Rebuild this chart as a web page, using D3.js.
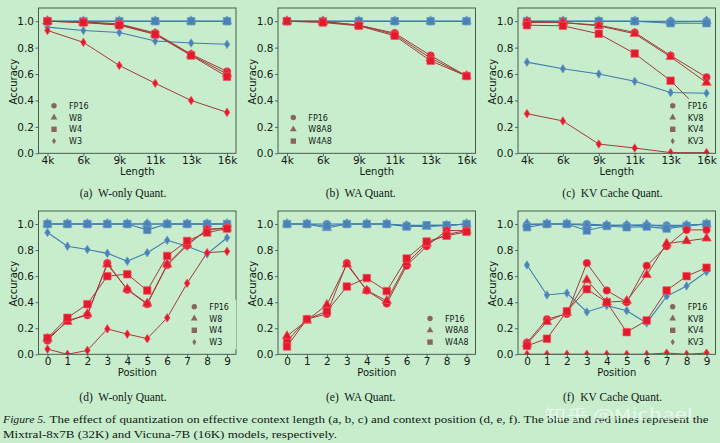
<!DOCTYPE html>
<html><head><meta charset="utf-8">
<script src="https://cdn.jsdelivr.net/npm/d3@7"></script>
<style>body{margin:0;background:#c7edcc;} svg{display:block}</style>
</head><body>
<script>
// ---------- tick labels / categories ----------
const lengthLabels = ["4k","6k","9k","11k","13k","16k"];
const positionLabels = ["0","1","2","3","4","5","6","7","8","9"];
const yTicks = [0.0,0.2,0.4,0.6,0.8,1.0];

// ---------- (a) W-only Quant., length ----------
const aMixFP16 = [1,1,1,1,1,1];
const aMixW8   = [1,1,1,1,1,1];
const aMixW4   = [1,1,1,1,1,1];
const aMixW3   = [0.955,0.93,0.915,0.85,0.835,0.825];
const aVicFP16 = [1.0,0.995,0.98,0.91,0.75,0.62];
const aVicW8   = [1.0,0.99,0.975,0.905,0.745,0.60];
const aVicW4   = [1.0,0.99,0.97,0.90,0.74,0.58];
const aVicW3   = [0.93,0.84,0.665,0.53,0.40,0.31];

// ---------- (b) WA Quant., length ----------
const bMixFP16 = [1,1,1,1,1,1];
const bMixW8A8 = [1,1,1,1,1,1];
const bMixW4A8 = [1,1,1,1,1,1];
const bVicFP16 = [1.0,1.0,0.97,0.91,0.74,0.585];
const bVicW8A8 = [1.0,0.995,0.97,0.90,0.72,0.585];
const bVicW4A8 = [1.0,0.99,0.965,0.89,0.70,0.585];

// ---------- (c) KV Cache Quant., length ----------
const cMixFP16 = [1,1,1,1,1,1];
const cMixKV8  = [1,1,1,1,0.995,1];
const cMixKV4  = [1,1,1,1,0.985,0.985];
const cMixKV3  = [0.69,0.64,0.60,0.545,0.46,0.455];
const cVicFP16 = [1.0,0.99,0.97,0.915,0.74,0.575];
const cVicKV8  = [0.99,0.99,0.965,0.905,0.73,0.535];
const cVicKV4  = [0.97,0.965,0.905,0.755,0.55,0.28];
const cVicKV3  = [0.30,0.245,0.07,0.04,0.005,0.005];

// ---------- (d) W-only Quant., position ----------
const dMixFP16 = [1,1,1,1,1,1,1,1,1,1];
const dMixW8   = [1,1,1,1,1,1,1,1,1,1];
const dMixW4   = [1,1,1,1,1,0.955,1,1,1,1];
const dMixW3   = [0.935,0.83,0.805,0.775,0.715,0.78,0.875,0.83,0.77,0.895];
const dVicFP16 = [0.105,0.26,0.30,0.70,0.495,0.385,0.685,0.835,0.96,0.97];
const dVicW8   = [0.12,0.25,0.31,0.69,0.50,0.39,0.69,0.845,0.955,0.97];
const dVicW4   = [0.125,0.28,0.385,0.60,0.615,0.49,0.755,0.87,0.935,0.965];
const dVicW3   = [0.04,0.0,0.03,0.195,0.155,0.12,0.28,0.545,0.78,0.79];

// ---------- (e) WA Quant., position ----------
const eMixFP16 = [1,1,1,1,1,1,0.99,0.99,0.99,1];
const eMixW8A8 = [1,1,0.97,1,1,1,0.985,0.98,0.99,1];
const eMixW4A8 = [1,1,0.985,1,1,1,0.98,0.99,0.99,1];
const eVicFP16 = [0.10,0.27,0.31,0.70,0.49,0.39,0.68,0.83,0.95,0.95];
const eVicW8A8 = [0.14,0.26,0.38,0.69,0.49,0.41,0.70,0.85,0.92,0.95];
const eVicW4A8 = [0.06,0.27,0.33,0.52,0.585,0.485,0.735,0.865,0.91,0.94];

// ---------- (f) KV Cache Quant., position ----------
const fMixFP16 = [0.995,1,1,1,0.99,0.99,0.99,0.99,0.99,1];
const fMixKV8  = [1,1,1,0.99,0.99,0.99,0.995,0.98,0.99,1];
const fMixKV4  = [0.975,1,1,0.95,0.985,0.975,0.98,0.965,0.985,1];
const fMixKV3  = [0.685,0.455,0.47,0.325,0.375,0.335,0.24,0.445,0.525,0.635];
const fVicFP16 = [0.09,0.27,0.31,0.70,0.49,0.40,0.68,0.83,0.955,0.955];
const fVicKV8  = [0.08,0.25,0.32,0.57,0.40,0.41,0.61,0.85,0.87,0.89];
const fVicKV4  = [0.065,0.12,0.33,0.50,0.40,0.17,0.26,0.49,0.60,0.665];
const fVicKV3  = [0,0,0,0,0,0,0,0.01,0,0.01];

// ---------- build panels ----------
const panels = [
  {x0:38.5, top:8, bottom:153.3, labels:lengthLabels, xTitle:"Length", caption:"(a)  W-only Quant.", capX:123, capY:197, legX:15.5, legPos:"left",
   series:[{n:"FP16",m:"circle",mix:aMixFP16,vic:aVicFP16},{n:"W8",m:"triangle",mix:aMixW8,vic:aVicW8},{n:"W4",m:"square",mix:aMixW4,vic:aVicW4},{n:"W3",m:"diamond",mix:aMixW3,vic:aVicW3}]},
  {x0:278, top:8, bottom:153.3, labels:lengthLabels, xTitle:"Length", caption:"(b)  WA Quant.", capX:360.7, capY:197, legX:15.3,
   series:[{n:"FP16",m:"circle",mix:bMixFP16,vic:bVicFP16},{n:"W8A8",m:"triangle",mix:bMixW8A8,vic:bVicW8A8},{n:"W4A8",m:"square",mix:bMixW4A8,vic:bVicW4A8}]},
  {x0:518, top:8, bottom:153.3, labels:lengthLabels, xTitle:"Length", caption:"(c)  KV Cache Quant.", capX:612.5, capY:197, legX:154.7,
   series:[{n:"FP16",m:"circle",mix:cMixFP16,vic:cVicFP16},{n:"KV8",m:"triangle",mix:cMixKV8,vic:cVicKV8},{n:"KV4",m:"square",mix:cMixKV4,vic:cVicKV4},{n:"KV3",m:"diamond",mix:cMixKV3,vic:cVicKV3}]},
  {x0:38.5, top:211, bottom:354.3, labels:positionLabels, xTitle:"Position", caption:"(d)  W-only Quant.", capX:123, capY:401, legX:155.8,
   series:[{n:"FP16",m:"circle",mix:dMixFP16,vic:dVicFP16},{n:"W8",m:"triangle",mix:dMixW8,vic:dVicW8},{n:"W4",m:"square",mix:dMixW4,vic:dVicW4},{n:"W3",m:"diamond",mix:dMixW3,vic:dVicW3}]},
  {x0:278, top:211, bottom:354.3, labels:positionLabels, xTitle:"Position", caption:"(e)  WA Quant.", capX:360.7, capY:401, legX:152,
   series:[{n:"FP16",m:"circle",mix:eMixFP16,vic:eVicFP16},{n:"W8A8",m:"triangle",mix:eMixW8A8,vic:eVicW8A8},{n:"W4A8",m:"square",mix:eMixW4A8,vic:eVicW4A8}]},
  {x0:518, top:211, bottom:354.3, labels:positionLabels, xTitle:"Position", caption:"(f)  KV Cache Quant.", capX:612.5, capY:401, legX:154.7,
   series:[{n:"FP16",m:"circle",mix:fMixFP16,vic:fVicFP16},{n:"KV8",m:"triangle",mix:fMixKV8,vic:fVicKV8},{n:"KV4",m:"square",mix:fMixKV4,vic:fVicKV4},{n:"KV3",m:"diamond",mix:fMixKV3,vic:fVicKV3}]}
];

const BG = "#c7edcc";
const BLUE_LINE = "#3f7cb0", BLUE_MK = "#4a82b8";
const RED_LINE = "#a23c3a", RED_MK = "#e31a2c", RED_EDGE = "#f2505e";
const LEG_MK = "#8a6460";
const TXT = "#111a14", SPINE = "#3d4d42";
const PW = 197.5;

const W = 720, H = 443;
const svg = d3.select("body").append("svg").attr("width", W).attr("height", H);
svg.append("rect").attr("width", W).attr("height", H).attr("fill", BG);

function markerPath(m, s) {
  if (m === "diamond") {
    const w = 2.8 * s, h = 4.3 * s;
    return `M0,${-h}L${w},0L0,${h}L${-w},0Z`;
  }
  const type = {circle:d3.symbolCircle, triangle:d3.symbolTriangle, square:d3.symbolSquare}[m];
  const area = {circle:44, triangle:38, square:56}[m] * s * s;
  return d3.symbol().type(type).size(area)();
}

panels.forEach((p, pi) => {
  const n = p.labels.length;
  const pad = (n - 1) * 0.05;
  const x = d3.scaleLinear().domain([-pad, n - 1 + pad]).range([p.x0, p.x0 + PW]);
  const y = d3.scaleLinear().domain([0, 1.1]).range([p.bottom, p.top]);
  const g = svg.append("g");

  const clipId = "clip" + pi;
  svg.append("clipPath").attr("id", clipId).append("rect")
    .attr("x", p.x0).attr("y", p.top).attr("width", PW).attr("height", p.bottom - p.top);

  // axes
  const yAxis = d3.axisLeft(y).tickValues(yTicks).tickFormat(d3.format(".1f")).tickSize(3).tickPadding(1.5);
  const xAxis = d3.axisBottom(x).tickValues(d3.range(n)).tickFormat(i => p.labels[i]).tickSize(3).tickPadding(0.5);
  const ya = g.append("g").attr("transform", `translate(${p.x0},0)`).call(yAxis);
  const xa = g.append("g").attr("transform", `translate(0,${p.bottom})`).call(xAxis);
  [ya, xa].forEach(a => {
    a.select(".domain").remove();
    a.selectAll("line").attr("stroke", SPINE).attr("stroke-width", 0.8);
    a.selectAll("text").attr("fill", TXT).style("font-family", "DejaVu Sans").style("font-size", "10.5px");
  });

  // axis titles
  g.append("text").attr("x", p.x0 + PW / 2).attr("y", p.bottom + 21.5).attr("text-anchor", "middle")
    .attr("fill", TXT).style("font-family", "DejaVu Sans").style("font-size", "10px").text(p.xTitle);
  const ymid = (p.top + p.bottom) / 2 + 1;
  g.append("text").attr("transform", `translate(${p.x0 - 22},${ymid}) rotate(-90)`).attr("text-anchor", "middle")
    .attr("fill", TXT).style("font-family", "DejaVu Sans").style("font-size", "10px").text("Accuracy");

  // marks
  const marks = g.append("g").attr("clip-path", `url(#${clipId})`);
  const line = d3.line().x((d, i) => x(i)).y(d => y(d));
  const drawSeries = (vals, m, lineCol, mkCol, edge, lw) => {
    marks.append("path").attr("d", line(vals)).attr("fill", "none").attr("stroke", lineCol).attr("stroke-width", lw);
    marks.selectAll(null).data(vals).enter().append("path")
      .attr("d", markerPath(m, 1))
      .attr("transform", (d, i) => `translate(${x(i)},${y(d)})`)
      .attr("fill", mkCol).attr("stroke", edge).attr("stroke-width", 0.7);
  };
  p.series.forEach(s => drawSeries(s.mix, s.m, BLUE_LINE, BLUE_MK, "#6d9cc8", 1.1));
  p.series.forEach(s => drawSeries(s.vic, s.m, RED_LINE, RED_MK, RED_EDGE, 1.0));

  // frame
  g.append("rect").attr("x", p.x0).attr("y", p.top).attr("width", PW).attr("height", p.bottom - p.top)
    .attr("fill", "none").attr("stroke", SPINE).attr("stroke-width", 0.9);

  // legend
  const k = p.series.length;
  const rowH = 11.8;
  const lastY = p.bottom - 12.2;
  const firstY = lastY - (k - 1) * rowH;
  const mx = p.x0 + p.legX;
  const leg = g.append("g");
  leg.append("rect").attr("x", mx - 8).attr("y", firstY - 7).attr("width", 50).attr("height", (k - 1) * rowH + 14).attr("fill", BG);
  p.series.forEach((s, i) => {
    const yy = firstY + i * rowH;
    leg.append("path").attr("d", markerPath(s.m, 0.72)).attr("transform", `translate(${mx},${yy})`).attr("fill", LEG_MK);
    leg.append("text").attr("x", mx + 15).attr("y", yy + 3).attr("fill", TXT)
      .style("font-family", "DejaVu Sans").style("font-size", "8px").text(s.n);
  });

  // caption
  svg.append("text").attr("x", p.capX).attr("y", p.capY).attr("text-anchor", "middle").attr("fill", TXT)
    .style("font-family", "Liberation Serif").style("font-size", "11.5px").attr("xml:space", "preserve").style("white-space", "pre").text(p.caption);
});

// figure caption
const capFont = "Liberation Serif";
svg.append("text").attr("x", 3).attr("y", 423).attr("fill", TXT).style("font-family", capFont).style("font-size", "11px")
  .style("font-style", "italic").attr("textLength", 43).attr("lengthAdjust", "spacingAndGlyphs").text("Figure 5.");
svg.append("text").attr("x", 49.5).attr("y", 423).attr("fill", TXT).style("font-family", capFont).style("font-size", "11px")
  .attr("textLength", 659).attr("lengthAdjust", "spacingAndGlyphs")
  .text("The effect of quantization on effective context length (a, b, c) and context position (d, e, f). The blue and red lines represent the");
svg.append("text").attr("x", 3).attr("y", 438).attr("fill", TXT).style("font-family", capFont).style("font-size", "11px")
  .attr("textLength", 334).attr("lengthAdjust", "spacingAndGlyphs")
  .text("Mixtral-8x7B (32K) and Vicuna-7B (16K) models, respectively.");
// watermark
svg.append("text").attr("x", 544).attr("y", 420).attr("fill", "#ffffff").attr("fill-opacity", 0.6)
  .style("font-family", "Noto Sans CJK SC").style("font-size", "15px")
  .attr("textLength", 149).attr("lengthAdjust", "spacingAndGlyphs").text("知乎 @Michael");
</script>
</body></html>
